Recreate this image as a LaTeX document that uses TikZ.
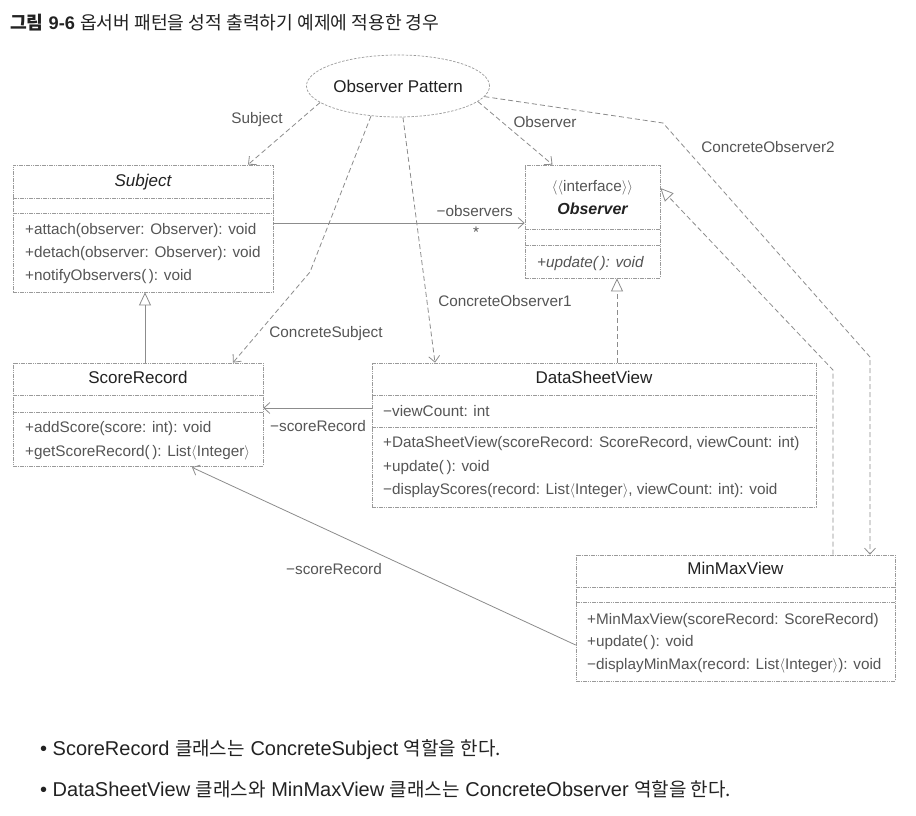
\documentclass[tikz,border=0pt]{standalone}
\usepackage{fontspec}
\setmainfont{Liberation Sans}
\newfontfamily\kor{Noto Sans CJK KR}
\usetikzlibrary{arrows.meta,shapes.geometric,calc}
\newcommand\myla{\ensuremath{\langle}}
\newcommand\myra{\ensuremath{\rangle}}
\newcommand\kr[1]{{\kor\fontsize{19}{23}\selectfont #1}}
\definecolor{boxgray}{HTML}{9A9A9A}
\definecolor{linegray}{HTML}{8C8C8C}
\definecolor{txtgray}{HTML}{555555}
\definecolor{namecol}{HTML}{222222}
\tikzset{
  classbox/.style={draw=boxgray, line width=0.7pt, dash pattern=on 1.6pt off 0.7pt, rectangle, inner sep=0pt},
  divider/.style={draw=boxgray, line width=0.6pt, dash pattern=on 1.6pt off 0.7pt},
  member/.style={anchor=west, inner sep=0pt, font=\fontsize{15.3}{18}\selectfont, text=txtgray, text height=11pt, text depth=3pt},
  cname/.style={inner sep=0pt, font=\fontsize{17}{20}\selectfont, text=namecol, text height=12pt, text depth=3pt},
  lbl/.style={inner sep=0pt, font=\fontsize{15.3}{18}\selectfont, text=txtgray, text height=11pt, text depth=3pt},
  dep/.style={draw=linegray, line width=0.8pt, dash pattern=on 5pt off 3pt, -{Straight Barb[length=6pt,width=11pt]}},
  assoc/.style={draw=linegray, line width=0.8pt, -{Straight Barb[length=6pt,width=11pt]}},
  realize/.style={draw=linegray, line width=0.8pt, dash pattern=on 5pt off 3pt, -{Triangle[length=13pt,width=12pt,fill=white]}},
  inherit/.style={draw=linegray, line width=0.8pt, -{Triangle[length=13pt,width=12pt,fill=white]}},
  bullet/.style={anchor=west, inner sep=0pt, font=\fontsize{20}{24}\selectfont, text=namecol},
}
\begin{document}
\begin{tikzpicture}[x=1pt, y=-1pt]
\fill[white] (0,0) rectangle (916,816);
\useasboundingbox (0,0) rectangle (916,816);

% title
\node[anchor=west, inner sep=0pt, font=\fontsize{18.2}{22}\selectfont, text=namecol] (title) at (10,23)
  {{\kor\bfseries 그림} \textbf{9-6} {\kor 옵서버 패턴을 성적 출력하기 예제에 적용한 경우}};

% ellipse
\node[ellipse, draw=boxgray, line width=0.7pt, dash pattern=on 2.5pt off 1.5pt, minimum width=168pt, minimum height=62pt, inner sep=0pt,
      font=\fontsize{17}{20}\selectfont, text=namecol] (ell) at (398,86) {Observer Pattern};

% Subject class
\node[classbox, minimum width=260pt, minimum height=127pt] (subj) at (143,228.5) {};
\draw[divider] (13,198) -- (273,198);
\draw[divider] (13,213) -- (273,213);
\node[cname, font=\fontsize{17}{20}\selectfont\itshape] (subjn) at (143,182) {Subject};
\node[member] (subj1) at (25,230) {+attach(observer: Observer): void};
\node[member] (subj2) at (25,253) {+detach(observer: Observer): void};
\node[member] (subj3) at (25,276) {+notifyObservers(\,): void};

% Observer interface
\node[classbox, minimum width=135pt, minimum height=113pt] (obs) at (592.5,221.5) {};
\draw[divider] (525,229) -- (660,229);
\draw[divider] (525,245) -- (660,245);
\node[lbl] (obsst) at (592.5,187) {\myla\myla interface\myra\myra};
\node[cname, font=\fontsize{16}{20}\selectfont\bfseries\itshape] (obsn) at (592.5,210) {Observer};
\node[member, font=\fontsize{15.3}{18}\selectfont\itshape] (obs1) at (537,263) {+update(\,): void};

% ScoreRecord
\node[classbox, minimum width=250pt, minimum height=103pt] (sr) at (138,414.5) {};
\draw[divider] (13,395) -- (263,395);
\draw[divider] (13,412) -- (263,412);
\node[cname] (srn) at (138,379) {ScoreRecord};
\node[member] (sr1) at (25,428) {+addScore(score: int): void};
\node[member] (sr2) at (25,452) {+getScoreRecord(\,): List\myla Integer\myra};

% DataSheetView
\node[classbox, minimum width=444pt, minimum height=144pt] (dsv) at (594,435) {};
\draw[divider] (372,395) -- (816,395);
\draw[divider] (372,427) -- (816,427);
\node[cname] (dsvn) at (594,379) {DataSheetView};
\node[member] (dsva) at (383,412) {−viewCount: int};
\node[member] (dsv1) at (383,443) {+DataSheetView(scoreRecord: ScoreRecord, viewCount: int)};
\node[member] (dsv2) at (383,467) {+update(\,): void};
\node[member] (dsv3) at (383,490) {−displayScores(record: List\myla Integer\myra, viewCount: int): void};

% MinMaxView
\node[classbox, minimum width=319pt, minimum height=126pt] (mm) at (735.5,618) {};
\draw[divider] (576,587) -- (895,587);
\draw[divider] (576,602) -- (895,602);
\node[cname] (mmn) at (735.5,570) {MinMaxView};
\node[member] (mm1) at (587,620) {+MinMaxView(scoreRecord: ScoreRecord)};
\node[member] (mm2) at (587,642) {+update(\,): void};
\node[member] (mm3) at (587,665) {−displayMinMax(record: List\myla Integer\myra): void};

% bend coordinates
\coordinate (bendcs) at (310,272);
\coordinate (bendco2a) at (663,123);
\coordinate (bendco2b) at (870,357);
\coordinate (bendreal) at (833,370);

% connectors from the ellipse
\draw[dep] (ell.192) -- ($(subj.north)+(105,0)$);
\draw[dep] (ell.349) -- ($(obs.north)+(-40,0)$);
\draw[dep] (ell.228) -- (bendcs) -- ($(sr.north)+(95,0)$);
\draw[dep] (ell.279) -- ($(dsv.north)+(-159,0)$);
\draw[dep] (ell.353) -- (bendco2a) -- (bendco2b) -- ($(mm.north)+(134.5,0)$);

% labels of the ellipse connectors
\node[lbl] (lsubj) at (257,120) {Subject};
\node[lbl] (lobs) at (545,123) {Observer};
\node[lbl] (lcs) at (326,333) {ConcreteSubject};
\node[lbl] (lco1) at (505,302) {ConcreteObserver1};
\node[lbl] (lco2) at (768,148) {ConcreteObserver2};

% class relations
\draw[assoc] ($(subj.east)+(0,-5.5)$) -- ($(obs.west)+(0,1.5)$);
\node[lbl, anchor=east] (lobsv) at (513,212) {−observers};
\node[lbl] (lstar) at (476,233) {*};

\draw[inherit] ($(sr.north)+(7,0)$) -- ($(subj.south)+(2,0)$);
\draw[realize] ($(dsv.north)+(23,0)$) -- ($(obs.south)+(24.5,0)$);
\draw[realize] ($(mm.north)+(97.5,0)$) -- (bendreal) -- ($(obs.east)+(0,-33.5)$);

\draw[assoc] ($(dsv.west)+(0,-27)$) -- ($(sr.east)+(0,-6.5)$);
\node[lbl] (lsr1) at (318,427) {−scoreRecord};

\draw[assoc] ($(mm.west)+(0,27)$) -- ($(sr.south)+(54,1)$);
\node[lbl] (lsr2) at (334,570) {−scoreRecord};

% bullets
\node[bullet] (b1) at (40,750) {• ScoreRecord \kr{클래스는} ConcreteSubject \kr{역할을 한다.}};
\node[bullet] (b2) at (40,789) {• DataSheetView \kr{클래스와} MinMaxView \kr{클래스는} ConcreteObserver \kr{역할을 한다.}};
\end{tikzpicture}
\end{document}
